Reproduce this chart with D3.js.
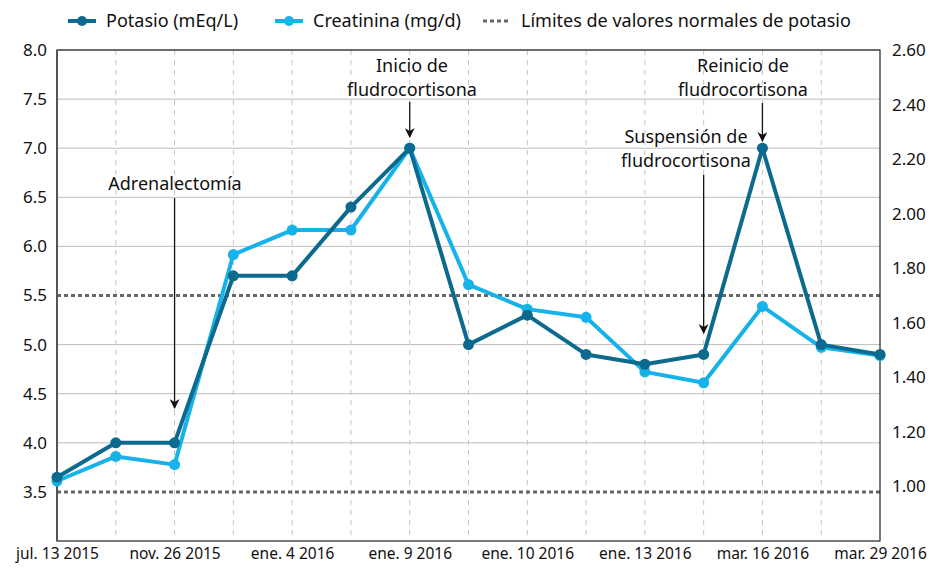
<!DOCTYPE html>
<html>
<head>
<meta charset="utf-8">
<script src="https://cdn.jsdelivr.net/npm/d3@7"></script>
<style>
  body { margin: 0; background: #fff; }
  svg text { font-family: "Noto Sans", sans-serif; fill: #111; }
</style>
</head>
<body>
<svg class="svg" width="936" height="568"></svg>
<script>
// fechas de cada medición (solo se rotulan las pares)
const categories = ["jul. 13 2015", "", "nov. 26 2015", "", "ene. 4 2016", "", "ene. 9 2016", "",
    "ene. 10 2016", "", "ene. 13 2016", "", "mar. 16 2016", "", "mar. 29 2016"];

// Potasio (mEq/L), eje izquierdo
const potasio = [3.65, 4.0, 4.0, 5.7, 5.7, 6.4, 7.0, 5.0, 5.3, 4.9, 4.8, 4.9, 7.0, 5.0, 4.9];

// Creatinina (mg/d), eje derecho
const creatinina = [1.02, 1.11, 1.08, 1.85, 1.94, 1.94, 2.24, 1.74, 1.65, 1.62, 1.42, 1.38, 1.66, 1.51, 1.48];

// límites normales de potasio
const limites = [3.5, 5.5];

const leftTicks = [3.5, 4.0, 4.5, 5.0, 5.5, 6.0, 6.5, 7.0, 7.5, 8.0];
const rightTicks = [1.0, 1.2, 1.4, 1.6, 1.8, 2.0, 2.2, 2.4, 2.6];

// anotaciones: índice del punto, líneas de texto
const notas = [
    { idx: 2, lines: ["Adrenalectomía"] },
    { idx: 6, lines: ["Inicio de", "fludrocortisona"] },
    { idx: 11, lines: ["Suspensión de", "fludrocortisona"] },
    { idx: 12, lines: ["Reinicio de", "fludrocortisona"] }
];

const width = 936, height = 568;
const margin = { top: 50, right: 56, bottom: 27, left: 57 };
const svg = d3.select(".svg");

const x = d3.scalePoint()
    .domain(d3.range(categories.length))
    .range([margin.left, width - margin.right]);

const yL = d3.scaleLinear().domain([3.0, 8.0]).range([height - margin.bottom, margin.top]);
const yR = d3.scaleLinear().domain([0.8, 2.6]).range([height - margin.bottom, margin.top]);

const darkC = "#0b6a8e";
const lightC = "#16b2ea";

// rejilla horizontal
svg.append("g").selectAll("line")
    .data(leftTicks.filter(d => !limites.includes(d)))
    .enter().append("line")
    .attr("x1", margin.left).attr("x2", width - margin.right)
    .attr("y1", d => yL(d)).attr("y2", d => yL(d))
    .attr("stroke", "#bdbdbd").attr("stroke-width", 1);

// rejilla vertical punteada
svg.append("g").selectAll("line")
    .data(d3.range(1, categories.length - 1))
    .enter().append("line")
    .attr("x1", d => x(d)).attr("x2", d => x(d))
    .attr("y1", margin.top).attr("y2", height - margin.bottom)
    .attr("stroke", "#c4c4c4").attr("stroke-width", 1)
    .attr("stroke-dasharray", "5,5");

// límites normales
svg.append("g").selectAll("line")
    .data(limites)
    .enter().append("line")
    .attr("x1", margin.left).attr("x2", width - margin.right)
    .attr("y1", d => yL(d)).attr("y2", d => yL(d))
    .attr("stroke", "#666").attr("stroke-width", 3)
    .attr("stroke-dasharray", "4,3");

// marco
svg.append("rect")
    .attr("x", margin.left).attr("y", margin.top)
    .attr("width", width - margin.left - margin.right)
    .attr("height", height - margin.top - margin.bottom)
    .attr("fill", "none").attr("stroke", "#222").attr("stroke-width", 1.2);
svg.append("line")
    .attr("x1", margin.left).attr("x2", margin.left)
    .attr("y1", margin.top).attr("y2", height - margin.bottom)
    .attr("stroke", "#555").attr("stroke-width", 2);

// ejes
const axisL = svg.append("g")
    .attr("transform", `translate(${margin.left},0)`)
    .call(d3.axisLeft(yL).tickValues(leftTicks).tickFormat(d3.format(".1f")).tickSize(0).tickPadding(10));
const axisR = svg.append("g")
    .attr("transform", `translate(${width - margin.right},0)`)
    .call(d3.axisRight(yR).tickValues(rightTicks).tickFormat(d3.format(".2f")).tickSize(0).tickPadding(12));
const axisB = svg.append("g")
    .attr("transform", `translate(0,${height - margin.bottom})`)
    .call(d3.axisBottom(x).tickFormat(i => categories[i]).tickSize(0).tickPadding(7));
[axisL, axisR, axisB].forEach(a => {
    a.select(".domain").remove();
    a.selectAll("text").attr("font-size", 17).attr("font-family", "Noto Sans").attr("fill", "#111");
});
axisB.selectAll("text").attr("font-size", 15.5);

// líneas de datos
const series = [
    { values: potasio, y: yL, color: darkC },
    { values: creatinina, y: yR, color: lightC }
];

// creatinina primero para que el potasio quede encima
series.slice().reverse().forEach(s => {
    const line = d3.line().x((d, i) => x(i)).y(d => s.y(d));
    svg.append("path")
        .datum(s.values)
        .attr("d", line)
        .attr("fill", "none")
        .attr("stroke", s.color)
        .attr("stroke-width", 4)
        .attr("stroke-linejoin", "round");
    svg.append("g").selectAll("circle")
        .data(s.values)
        .enter().append("circle")
        .attr("cx", (d, i) => x(i))
        .attr("cy", d => s.y(d))
        .attr("r", 5.5)
        .attr("fill", s.color);
});

// flecha
svg.append("defs").append("marker")
    .attr("id", "arrow")
    .attr("viewBox", "0 0 10 10")
    .attr("refX", 9).attr("refY", 5)
    .attr("markerWidth", 10).attr("markerHeight", 10)
    .attr("markerUnits", "userSpaceOnUse")
    .attr("orient", "auto")
    .append("path")
    .attr("d", "M0,0 L10,5 L0,10 L3,5 Z")
    .attr("fill", "#111");

// anotaciones (posición del texto y largo de flecha)
const notaPos = {
    2: { tx: 175, ty: 190, y1: 198, y2: 408 },
    6: { tx: 412, ty: 72, y1: 102, y2: 137 },
    11: { tx: 686, ty: 143, y1: 175, y2: 333 },
    12: { tx: 743, ty: 72, y1: 103, y2: 141 }
};
notas.forEach(n => {
    const p = notaPos[n.idx];
    const t = svg.append("text")
        .attr("x", p.tx).attr("y", p.ty)
        .attr("text-anchor", "middle")
        .attr("font-size", 18);
    n.lines.forEach((l, k) => {
        t.append("tspan").attr("x", p.tx).attr("dy", k === 0 ? 0 : 24).text(l);
    });
    svg.append("line")
        .attr("x1", x(n.idx)).attr("x2", x(n.idx))
        .attr("y1", p.y1).attr("y2", p.y2)
        .attr("stroke", "#111").attr("stroke-width", 1.3)
        .attr("marker-end", "url(#arrow)");
});

// leyenda
const legend = [
    { label: "Potasio (mEq/L)", color: darkC, x: 68, type: "dot" },
    { label: "Creatinina (mg/d)", color: lightC, x: 275, type: "dot" },
    { label: "Límites de valores normales de potasio", color: "#666", x: 483, type: "dash" }
];
const lg = svg.append("g").selectAll("g")
    .data(legend).enter().append("g")
    .attr("transform", d => `translate(${d.x},21)`);
lg.append("line")
    .attr("x1", 0).attr("x2", 28)
    .attr("stroke", d => d.color)
    .attr("stroke-width", d => d.type === "dot" ? 4 : 3)
    .attr("stroke-dasharray", d => d.type === "dot" ? null : "4,3");
lg.filter(d => d.type === "dot").append("circle")
    .attr("cx", 14).attr("r", 5).attr("fill", d => d.color);
lg.append("text")
    .attr("x", 38).attr("dy", "0.35em")
    .attr("font-size", 18)
    .text(d => d.label);
</script>
</body>
</html>
